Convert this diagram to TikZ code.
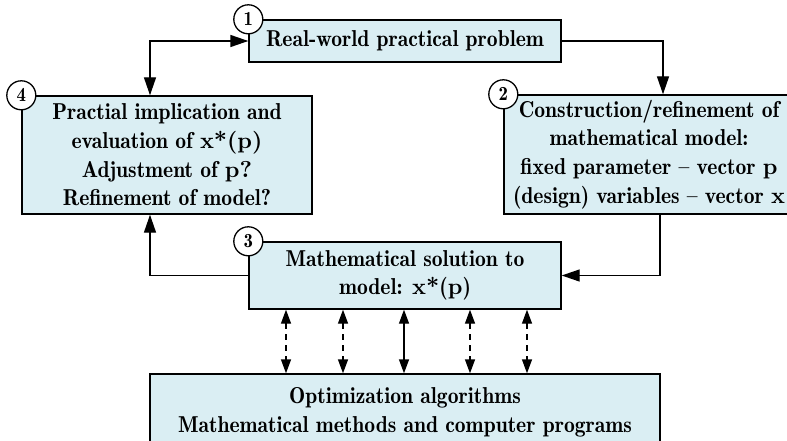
\documentclass[tikz,border=0pt]{standalone}
\usepackage{fontspec}
\setmainfont{lmromandemi10-regular}[Extension=.otf, FakeStretch=0.94]
\newfontfamily\bxfont{lmroman10-bold}[Extension=.otf]
\newcommand{\Bv}[1]{{\bxfont #1}}
\usetikzlibrary{arrows.meta}
\definecolor{boxfill}{HTML}{DAEEF3}
\begin{document}
\begin{tikzpicture}[x=1pt,y=-1pt,
  box/.style={draw=black, fill=boxfill, line width=1.4pt, inner sep=0pt, align=center,
    font=\fontsize{23}{28.7}\selectfont},
  num/.style={draw=black, fill=white, circle, line width=1.3pt, minimum size=29pt, inner sep=0pt,
    font=\fontsize{20}{20}\selectfont},
  arr/.style={line width=1.4pt, -{Triangle[length=18pt,width=12pt]}},
  darr/.style={line width=1.4pt, {Triangle[length=18pt,width=12pt]}-{Triangle[length=18pt,width=12pt]}},
  sarr/.style={line width=1.4pt, {Triangle[length=14pt,width=10pt]}-{Triangle[length=14pt,width=10pt]}},
  dsarr/.style={sarr, dash pattern=on 6pt off 5pt}
]
\useasboundingbox (0,0) rectangle (787,441);
\node[box, minimum width=312pt, minimum height=42pt] (b1) at (405,41) {Real-world practical problem};
\node[box, minimum width=290pt, minimum height=118pt] (b4) at (167,155)
  {Practial implication and\\evaluation of \Bv{x*(p)}\\Adjustment of \Bv{p?}\\Refinement of model?};
\node[box, minimum width=290pt, minimum height=119pt] (b2) at (649,154.5)
  {Construction/refinement of\\mathematical model:\\fixed parameter -- vector \Bv{p}\\(design) variables -- vector \Bv{x}};
\node[box, minimum width=312pt, minimum height=67pt] (b3) at (405,275.5)
  {Mathematical solution to\\model: \Bv{x*}(\Bv{p})};
\node[box, minimum width=510pt, minimum height=76pt] (b5) at (405,412)
  {Optimization algorithms\\Mathematical methods and computer programs};
\node[num] (c1) at (b1.north west) {1};
\node[num] (c2) at (b2.north west) {2};
\node[num] (c3) at (b3.north west) {3};
\node[num] (c4) at (b4.north west) {4};
\draw[arr] (b1.east) -| ([xshift=14pt]b2.north);
\draw[darr] ([xshift=-17pt]b4.north) |- (b1.west);
\draw[arr] ([xshift=11pt]b2.south) |- (b3.east);
\draw[arr] (b3.west) -| ([xshift=-17pt]b4.south);
\draw[dsarr] ([xshift=-119pt]b3.south) -- ([xshift=-119pt]b5.north);
\draw[dsarr] ([xshift=-62pt]b3.south) -- ([xshift=-62pt]b5.north);
\draw[sarr] ([xshift=-1pt]b3.south) -- ([xshift=-1pt]b5.north);
\draw[dsarr] ([xshift=65pt]b3.south) -- ([xshift=65pt]b5.north);
\draw[dsarr] ([xshift=122pt]b3.south) -- ([xshift=122pt]b5.north);
\end{tikzpicture}
\end{document}
